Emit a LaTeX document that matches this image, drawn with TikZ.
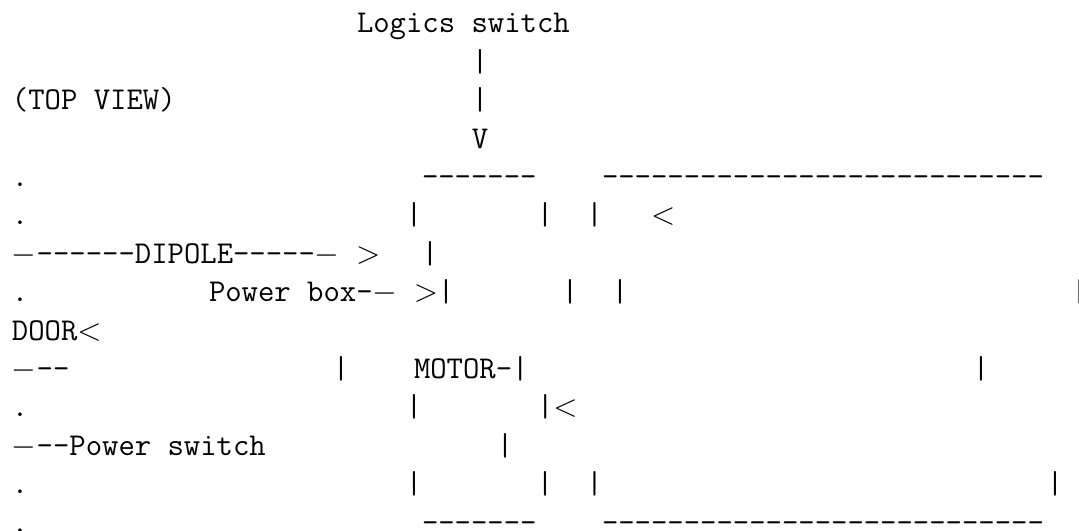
\documentclass[tikz,border=0pt]{standalone}
\tikzset{
  txt/.style={anchor=base west,inner sep=0pt,outer sep=0pt,font=\fontsize{12}{14.5}\selectfont\ttfamily},
  bar/.style={anchor=base,inner sep=0pt,outer sep=0pt,font=\fontsize{12}{14.5}\selectfont\ttfamily},
}
\begin{document}
\begin{tikzpicture}[x=0.3776pt,y=-0.3776pt]
\useasboundingbox (0,0) rectangle (1079,531);
\def\rowA{33}\def\rowB{71.4}\def\rowC{109.8}\def\rowD{148.2}\def\rowE{186.6}\def\rowF{225}\def\rowG{263.4}
\def\rowH{301.8}\def\rowI{340.2}\def\rowJ{378.6}\def\rowK{417}\def\rowL{455.4}\def\rowM{493.8}\def\rowN{532.2}
\node[txt] (logics) at (357,\rowA) {Logics switch};
\node[bar] (b1) at (480,\rowB) {|};
\node[txt] (top) at (12,\rowC) {(TOP VIEW)};
\node[bar] (b2) at (480,\rowC) {|};
\node[bar] (v) at (480,\rowD) {V};
\node[txt] (d1) at (12,\rowE) {.};
\node[txt] (boxtop) at (422,\rowE) {-{}-{}-{}-{}-{}-{}-};
\node[txt] (doortop) at (602,\rowE) {-{}-{}-{}-{}-{}-{}-{}-{}-{}-{}-{}-{}-{}-{}-{}-{}-{}-{}-{}-{}-{}-{}-{}-{}-{}-{}-};
\node[txt] (d2) at (12,\rowF) {.};
\node[bar] (b3) at (414,\rowF) {|};
\node[bar] (b4) at (545,\rowF) {|};
\node[bar] (b5) at (594.5,\rowF) {|};
\node[txt] (lt1) at (651,\rowF) {$<$};
\node[txt] (dipole) at (12,\rowG) {$-$-{}-{}-{}-{}-{}-DIPOLE-{}-{}-{}-{}-$-$ $>$};
\node[bar] (b6) at (430,\rowG) {|};
\node[txt] (d3) at (12,\rowH) {.};
\node[txt] (powerbox) at (209,\rowH) {Power box-$-$ $>$|};
\node[bar] (b7) at (570,\rowH) {|};
\node[bar] (b8) at (620,\rowH) {|};
\node[bar] (b9) at (1079.5,\rowH) {|};
\node[txt] (door) at (12,\rowI) {DOOR$<$};
\node[txt] (dd) at (12,\rowJ) {$-$-{}-};
\node[bar] (b10) at (341,\rowJ) {|};
\node[txt] (motor) at (414,\rowJ) {MOTOR-|};
\node[bar] (b11) at (981,\rowJ) {|};
\node[txt] (d4) at (12,\rowK) {.};
\node[bar] (b12) at (414,\rowK) {|};
\node[txt] (b13) at (537,\rowK) {|$<$};
\node[txt] (pswitch) at (12,\rowL) {$-$-{}-Power switch};
\node[bar] (b14) at (505,\rowL) {|};
\node[txt] (d5) at (12,\rowM) {.};
\node[bar] (b15) at (414,\rowM) {|};
\node[bar] (b16) at (545,\rowM) {|};
\node[bar] (b17) at (594.5,\rowM) {|};
\node[bar] (b18) at (1055,\rowM) {|};
\node[txt] (d6) at (12,\rowN) {.};
\node[txt] (boxbot) at (422,\rowN) {-{}-{}-{}-{}-{}-{}-};
\node[txt] (doorbot) at (602,\rowN) {-{}-{}-{}-{}-{}-{}-{}-{}-{}-{}-{}-{}-{}-{}-{}-{}-{}-{}-{}-{}-{}-{}-{}-{}-{}-{}-};
\end{tikzpicture}
\end{document}
